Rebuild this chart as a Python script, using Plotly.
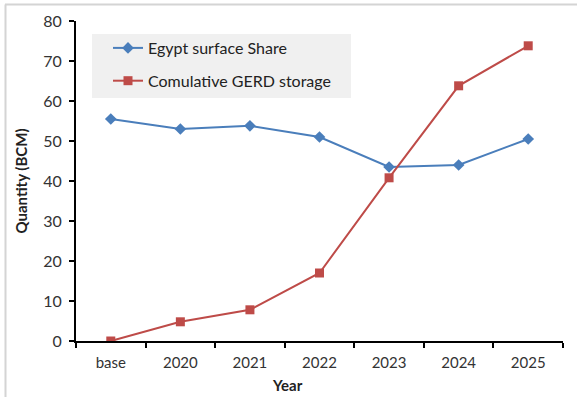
import plotly.graph_objects as go

categories = ["base", "2020", "2021", "2022", "2023", "2024", "2025"]
egypt_share = [55.5, 53, 53.8, 51, 43.5, 44, 50.5]
gerd_storage = [0, 4.8, 7.8, 17, 40.8, 63.8, 73.8]
y_ticks = [0, 10, 20, 30, 40, 50, 60, 70, 80]

FONT = "Lato"
W, H = 577, 397
L, R, T, B = 76, 14, 21, 56
pw, ph = W - L - R, H - T - B

def px(x):
    return (x - L) / pw

def py(y):
    return (H - B - y) / ph

fig = go.Figure()
fig.add_trace(go.Scatter(
    x=categories, y=egypt_share, name="Egypt surface Share",
    mode="lines+markers", legendgroup="a",
    line=dict(color="#4a7ebb", width=2),
    marker=dict(symbol="diamond", size=9, color="#4a7ebb"),
))
fig.add_trace(go.Scatter(
    x=categories, y=gerd_storage, name="Comulative GERD storage",
    mode="lines+markers", legendgroup="b",
    line=dict(color="#be4b48", width=2),
    marker=dict(symbol="square", size=9, color="#be4b48"),
))

fig.update_layout(
    width=W, height=H,
    margin=dict(l=L, r=R, t=T, b=B),
    paper_bgcolor="white", plot_bgcolor="white",
    font=dict(family=FONT, size=14, color="#333333"),
    showlegend=True,
    legend=dict(
        x=px(108), y=py(31), xanchor="left", yanchor="top",
        bgcolor="rgba(0,0,0,0)", borderwidth=0,
        tracegroupgap=9,
        font=dict(family=FONT, size=16, color="#222222"),
    ),
    shapes=[
        dict(type="rect", xref="paper", yref="paper",
             x0=px(92), x1=px(351), y0=py(98), y1=py(34),
             fillcolor="#f0f0f0", line=dict(width=0), layer="below"),
        dict(type="line", xref="paper", yref="paper",
             x0=px(5), x1=px(W + 5), y0=py(4.5), y1=py(4.5),
             line=dict(color="#d4d4d4", width=2)),
        dict(type="line", xref="paper", yref="paper",
             x0=px(5.5), x1=px(5.5), y0=py(4.5), y1=py(H + 5),
             line=dict(color="#d4d4d4", width=2)),
    ],
    annotations=[
        dict(text="<b>Year</b>", xref="paper", yref="paper",
             x=px(287), y=py(385), xanchor="center", yanchor="middle",
             showarrow=False, font=dict(family=FONT, size=15, color="#222222")),
    ],
)

fig.update_xaxes(
    type="category", range=[-0.5, 6.5],
    showline=True, linecolor="black", linewidth=2,
    ticks="outside", ticklen=5, tickwidth=2, tickcolor="black",
    tickson="boundaries", showgrid=False, zeroline=False,
    ticklabelstandoff=7,
    tickfont=dict(family=FONT, size=15, color="#333333"),
)
fig.update_yaxes(
    range=[0, 80], tickvals=y_ticks,
    showline=True, linecolor="black", linewidth=2,
    ticks="outside", ticklen=5, tickwidth=2, tickcolor="black",
    showgrid=False, zeroline=False,
    ticklabelstandoff=4,
    tickfont=dict(family=FONT, size=16, color="#333333"),
    title=dict(text="<b>Quantity (BCM)</b>", standoff=12,
               font=dict(family=FONT, size=15, color="#222222")),
)

fig.write_html("out.html")
